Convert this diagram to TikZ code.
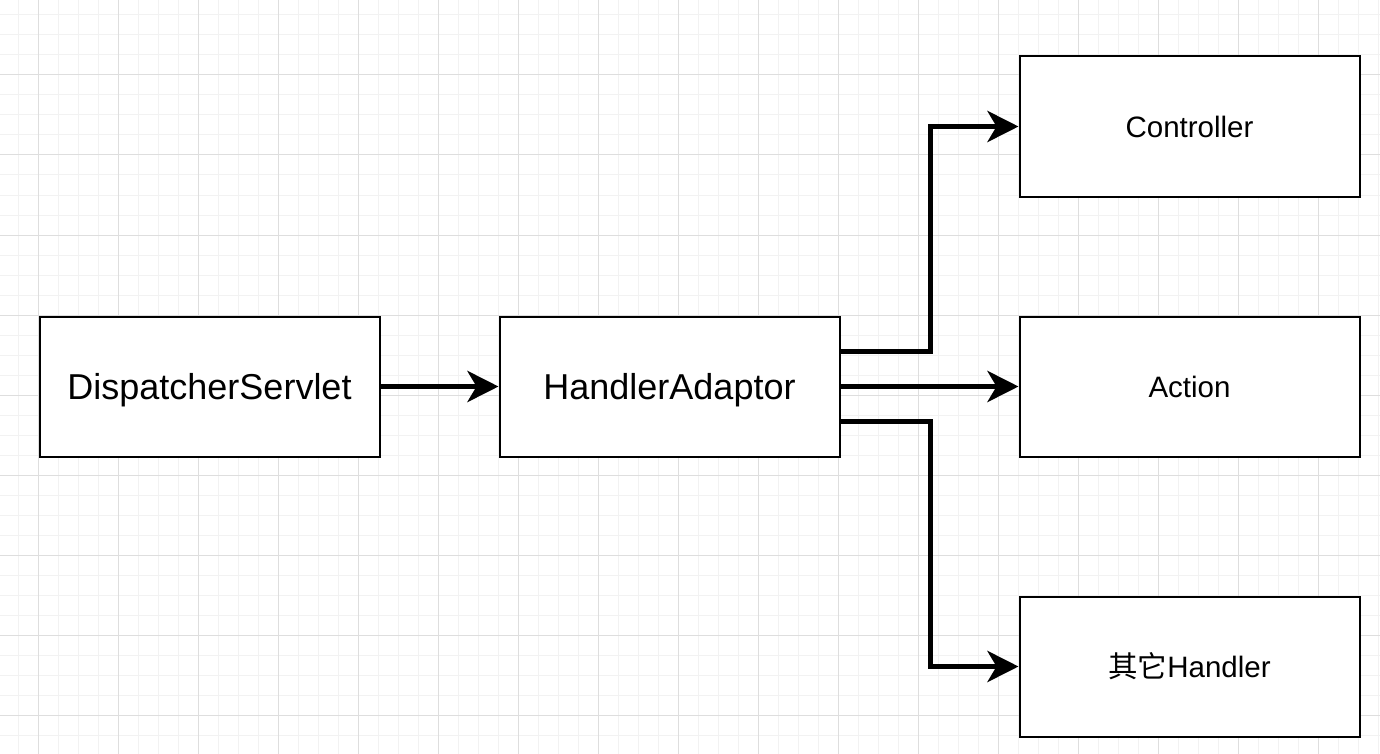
\documentclass[tikz,border=0pt]{standalone}
\usepackage{fontspec}
\setmainfont{Liberation Sans}
\newfontfamily\cjk{Noto Sans CJK SC}
\usetikzlibrary{arrows.meta,calc}
\definecolor{gridminor}{HTML}{F2F2F2}
\definecolor{gridmajor}{HTML}{DEDEDE}
\newcommand{\lowertext}[1]{\raisebox{-4pt}[\height][\depth]{#1}}
\tikzset{
  boxnode/.style={draw=black, line width=2pt, fill=white, minimum width=340pt, minimum height=140pt, inner sep=0pt, anchor=north west},
  bigtext/.style={font=\fontsize{36}{40}\selectfont},
  smalltext/.style={font=\fontsize{29.5}{34}\selectfont},
  conn/.style={line width=5.5pt, -{Stealth[length=31pt,width=31pt,inset=9pt]}},
}
\begin{document}
\begin{tikzpicture}[x=1pt,y=-1pt]
\useasboundingbox (0,0) rectangle (1380,754);
\fill[white] (0,0) rectangle (1380,754);
% minor grid
\foreach \gx in {18,38,...,1378} \draw[gridminor, line width=1pt] (\gx,0) -- (\gx,754);
\foreach \gy in {15,35,...,754} \draw[gridminor, line width=1pt] (0,\gy) -- (1380,\gy);
% major grid
\foreach \gx in {38,118,...,1378} \draw[gridmajor, line width=1pt] (\gx,0) -- (\gx,754);
\foreach \gy in {75,155,...,754} \draw[gridmajor, line width=1pt] (0,\gy) -- (1380,\gy);

\node[boxnode, bigtext] (ds) at (38.5,315.5) {\lowertext{DispatcherServlet}};
\node[boxnode, bigtext] (ha) at (498.5,315.5) {\lowertext{HandlerAdaptor}};
\node[boxnode, smalltext] (ctrl) at (1018.5,55.5) {Controller};
\node[boxnode, smalltext] (act) at (1018.5,315.5) {Action};
\node[boxnode, smalltext] (oth) at (1018.5,595.5) {{\cjk 其它}Handler};

\draw[conn] (ds.east) -- (ha.west);
\draw[conn] ([yshift=35pt]ha.east) -- ++(90,0) |- (ctrl.west);
\draw[conn] (ha.east) -- (act.west);
\draw[conn] ([yshift=-35pt]ha.east) -- ++(90,0) |- (oth.west);
\end{tikzpicture}
\end{document}
